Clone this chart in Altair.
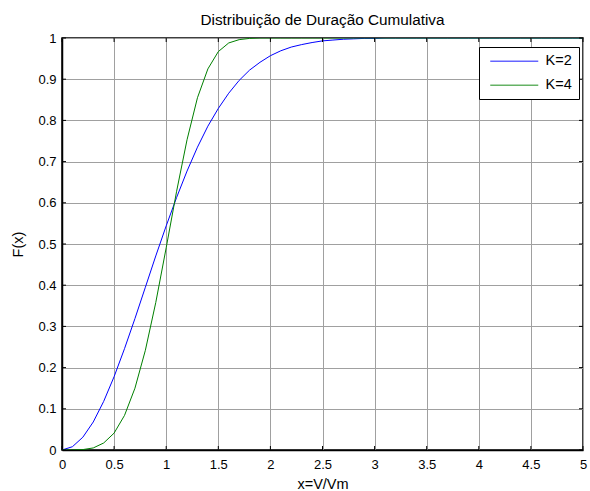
import altair as alt
import pandas as pd

# ---- data ----
x_vals = [0.0, 0.1, 0.2, 0.3, 0.4, 0.5, 0.6, 0.7, 0.8, 0.9,
          1.0, 1.1, 1.2, 1.3, 1.4, 1.5, 1.6, 1.7, 1.8, 1.9,
          2.0, 2.1, 2.2, 2.3, 2.4, 2.5, 2.6, 2.7, 2.8, 2.9,
          3.0, 3.1, 3.2, 3.3, 3.4, 3.5, 3.6, 3.7, 3.8, 3.9,
          4.0, 4.1, 4.2, 4.3, 4.4, 4.5, 4.6, 4.7, 4.8, 4.9, 5.0]

k2_vals = [0.000, 0.008, 0.031, 0.068, 0.118, 0.178, 0.246, 0.319, 0.395, 0.471,
           0.544, 0.613, 0.677, 0.735, 0.786, 0.829, 0.866, 0.897, 0.922, 0.941,
           0.957, 0.969, 0.978, 0.984, 0.989, 0.993, 0.995, 0.997, 0.998, 0.999,
           0.999, 1.000, 1.000, 1.000, 1.000, 1.000, 1.000, 1.000, 1.000, 1.000,
           1.000, 1.000, 1.000, 1.000, 1.000, 1.000, 1.000, 1.000, 1.000, 1.000, 1.000]

k4_vals = [0.000, 0.000, 0.001, 0.005, 0.017, 0.041, 0.084, 0.150, 0.242, 0.358,
           0.491, 0.628, 0.753, 0.855, 0.925, 0.967, 0.988, 0.996, 0.999, 1.000,
           1.000, 1.000, 1.000, 1.000, 1.000, 1.000, 1.000, 1.000, 1.000, 1.000,
           1.000, 1.000, 1.000, 1.000, 1.000, 1.000, 1.000, 1.000, 1.000, 1.000,
           1.000, 1.000, 1.000, 1.000, 1.000, 1.000, 1.000, 1.000, 1.000, 1.000, 1.000]

series_names = ["K=2", "K=4"]
series_colors = ["#0000ff", "#008000"]

x_ticks = [0, 0.5, 1, 1.5, 2, 2.5, 3, 3.5, 4, 4.5, 5]
y_ticks = [0, 0.1, 0.2, 0.3, 0.4, 0.5, 0.6, 0.7, 0.8, 0.9, 1]

W, H = 521, 412
FONT = "Liberation Sans"

df = pd.concat([
    pd.DataFrame({"x": x_vals, "F": k2_vals, "serie": series_names[0]}),
    pd.DataFrame({"x": x_vals, "F": k4_vals, "serie": series_names[1]}),
])
xt = pd.DataFrame({"x": x_ticks})
yt = pd.DataFrame({"F": y_ticks})

xscale = alt.Scale(domain=[0, 5], nice=False, zero=False)
yscale = alt.Scale(domain=[0, 1], nice=False, zero=False)

xaxis = alt.Axis(values=x_ticks, format="~g", title="x=V/Vm", grid=True,
                 gridColor="#a0a0a0", gridWidth=1, gridOpacity=1,
                 tickSize=0, labelPadding=8, titlePadding=6,
                 domainColor="black", domainWidth=1.5,
                 labelFontSize=13, titleFontSize=14.5, titleFontWeight="normal",
                 labelColor="black", titleColor="black", labelFlush=False)
yaxis = alt.Axis(values=y_ticks, format="~g", title="F(x)", grid=True,
                 gridColor="#a0a0a0", gridWidth=1, gridOpacity=1,
                 tickSize=0, labelPadding=6, titlePadding=12,
                 domainColor="black", domainWidth=1.5,
                 labelFontSize=13, titleFontSize=14.5, titleFontWeight="normal",
                 labelColor="black", titleColor="black", labelFlush=False)

lines = alt.Chart(df).mark_line(strokeWidth=1, clip=True).encode(
    x=alt.X("x:Q", scale=xscale, axis=xaxis),
    y=alt.Y("F:Q", scale=yscale, axis=yaxis),
    color=alt.Color("serie:N",
                    scale=alt.Scale(domain=series_names, range=series_colors),
                    legend=alt.Legend(title=None, orient="none",
                                      legendX=417, legendY=9,
                                      strokeColor="black", fillColor="white",
                                      padding=7,
                                      symbolType="M-0.5,0L7.5,0",
                                      symbolSize=144, symbolStrokeWidth=1.5,
                                      symbolOpacity=0.6,
                                      labelFontSize=14.5, labelColor="black",
                                      labelFont=FONT, rowPadding=9,
                                      labelOffset=45)),
)

tick_len = 4
bottom_ticks = alt.Chart(xt).mark_rule(color="black", strokeWidth=1).encode(
    x=alt.X("x:Q", scale=xscale, axis=xaxis), y=alt.value(H), y2=alt.value(H - tick_len))
top_ticks = alt.Chart(xt).mark_rule(color="black", strokeWidth=1).encode(
    x=alt.X("x:Q", scale=xscale, axis=xaxis), y=alt.value(0), y2=alt.value(tick_len))
left_ticks = alt.Chart(yt).mark_rule(color="black", strokeWidth=1).encode(
    y=alt.Y("F:Q", scale=yscale, axis=yaxis), x=alt.value(0), x2=alt.value(tick_len))
right_ticks = alt.Chart(yt).mark_rule(color="black", strokeWidth=1).encode(
    y=alt.Y("F:Q", scale=yscale, axis=yaxis), x=alt.value(W), x2=alt.value(W - tick_len))

chart = alt.layer(lines, bottom_ticks, top_ticks, left_ticks, right_ticks).properties(
    width=W, height=H,
    title=alt.Title("Distribuição de Duração Cumulativa", fontSize=15.3,
                    fontWeight="normal", font=FONT, color="black", offset=4),
    autosize=alt.AutoSizeParams(type="none"),
    padding={"left": 62, "top": 38, "right": 7, "bottom": 41},
).configure(font=FONT).configure_view(
    stroke="black", strokeWidth=1.5
).configure_axis(labelFont=FONT, titleFont=FONT)

chart.save("out.html", embed_options={"renderer": "svg", "actions": False})
